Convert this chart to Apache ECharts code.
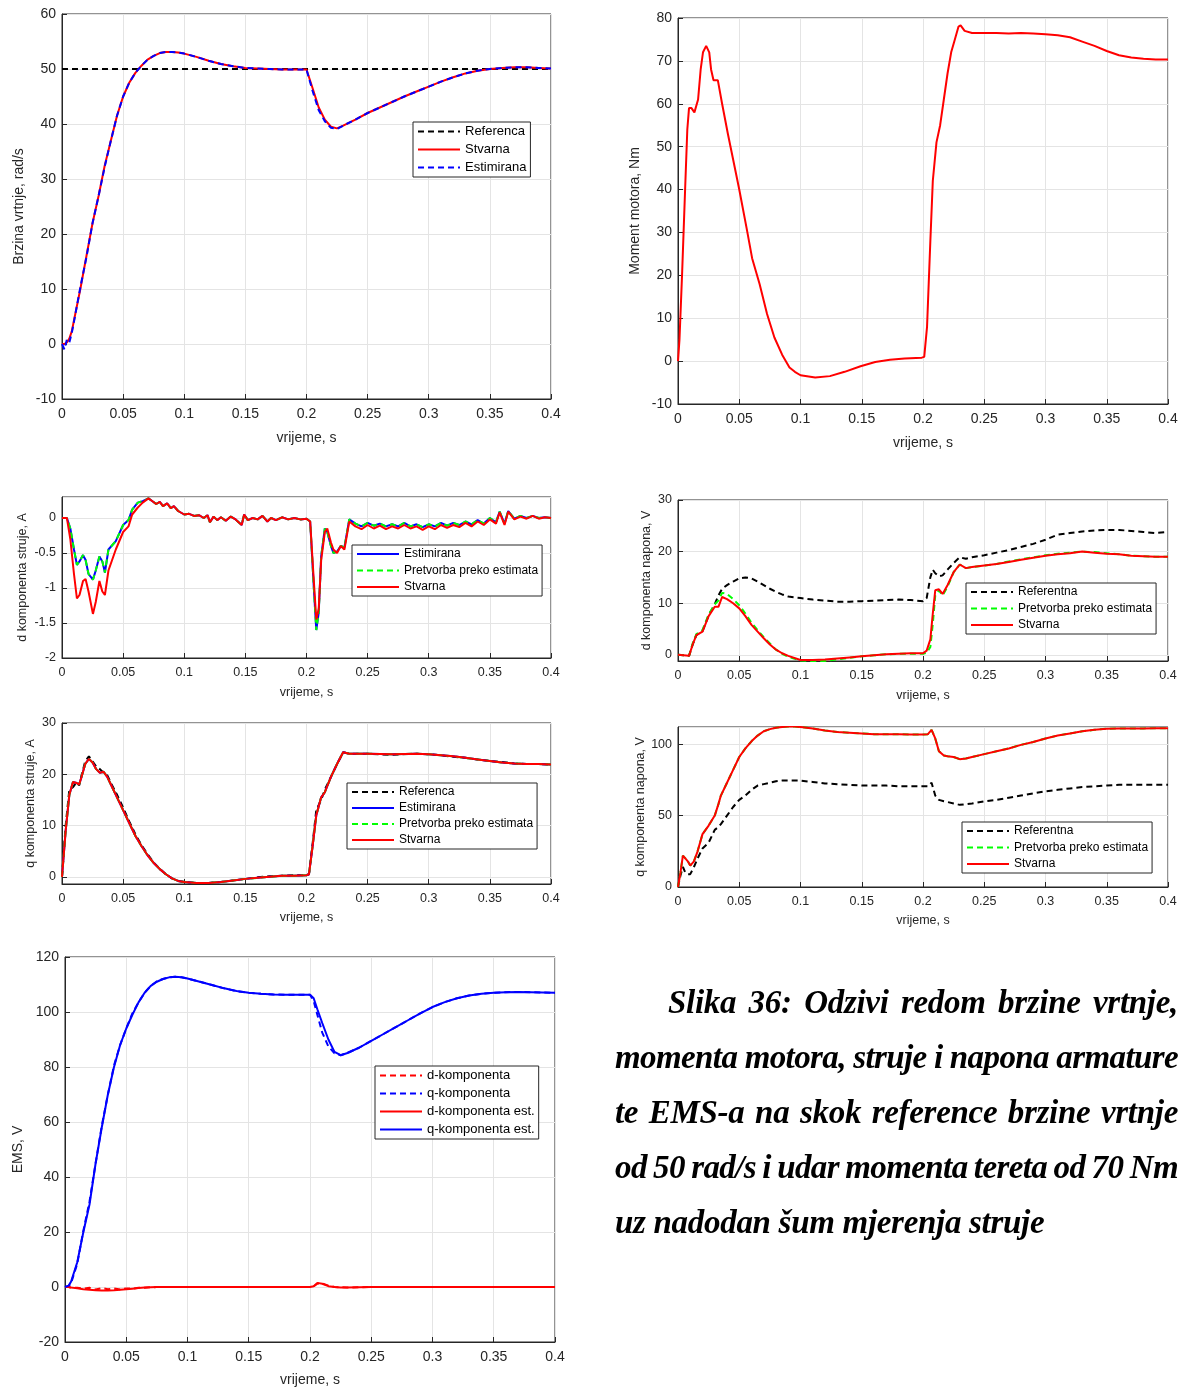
<!DOCTYPE html>
<html>
<head>
<meta charset="utf-8">
<title>Slika 36</title>
<script src="https://cdn.jsdelivr.net/npm/echarts@6/dist/echarts.min.js"></script>
<style>
	body { margin: 0; background: #fff; }
	#main { position: absolute; left: 0; top: 0; width: 1183px; height: 1388px; }
	#caption { position: absolute; left: 615px; top: 975px; width: 563px; font-family: "Liberation Serif", serif;
		font-weight: bold; font-style: italic; font-size: 33px; line-height: 55px; color: #000; letter-spacing: -0.3px; }
	#caption div { white-space: nowrap; text-align: justify; text-align-last: justify; }
	#caption div.first { padding-left: 53px; }
	#caption div.tight { letter-spacing: -0.6px; word-spacing: -5px; }
	#caption div.last { text-align-last: left; }
</style>
</head>
<body>
<div id="main"></div>
<div id="caption">
	<div class="first">Slika 36: Odzivi redom brzine vrtnje,</div>
	<div class="tight">momenta motora, struje i napona armature</div>
	<div>te EMS-a na skok reference brzine vrtnje</div>
	<div class="tight">od 50 rad/s i udar momenta tereta od 70 Nm</div>
	<div class="last">uz nadodan šum mjerenja struje</div>
</div>
<script>
// brzina vrtnje
var refT = [0, 0.4];
var speedRef = [50, 50];
var t1 = [0, 0.002, 0.004, 0.006, 0.008, 0.01, 0.015, 0.02, 0.025, 0.03, 0.035, 0.04, 0.045, 0.05, 0.055, 0.06, 0.065, 0.07, 0.075, 0.08, 0.085, 0.09, 0.095, 0.1,
	0.11, 0.12, 0.13, 0.14, 0.15, 0.16, 0.17, 0.18, 0.19, 0.2, 0.205, 0.21, 0.215, 0.22, 0.225, 0.23,
	0.24, 0.25, 0.26, 0.27, 0.28, 0.29, 0.3, 0.31, 0.32, 0.33, 0.34, 0.35, 0.36, 0.37, 0.38, 0.39, 0.4];
var speedReal = [0, 0, 0.3, 1, 2.3, 4.5, 10, 16, 22, 27, 32.5, 37, 41.5, 45, 47.5, 49.3, 50.6, 51.7, 52.4, 52.9, 53.1, 53.1, 53, 52.8,
	52.2, 51.5, 50.9, 50.5, 50.2, 50.1, 50, 49.9, 49.9, 49.9, 46.5, 43, 40.8, 39.5, 39.2, 39.7,
	40.8, 42, 43, 44, 45, 45.9, 46.8, 47.7, 48.5, 49.2, 49.7, 50, 50.2, 50.3, 50.3, 50.2, 50.1];
var speedEst = [0, -1, 0.8, 0.3, 2, 4.3, 10.3, 15.8, 22, 27, 32.3, 37, 41.5, 45, 47.5, 49.3, 50.6, 51.7, 52.4, 52.9, 53.1, 53.1, 53, 52.8,
	52.2, 51.5, 50.9, 50.5, 50.2, 50.1, 50, 49.9, 49.9, 49.9, 46, 42.5, 40.5, 39.3, 39.1, 39.7,
	40.8, 42, 43, 44, 45, 45.9, 46.8, 47.7, 48.5, 49.2, 49.7, 50, 50.2, 50.3, 50.3, 50.2, 50.1];

// moment motora
var t2 = [0, 0.0012, 0.0033, 0.0058, 0.0076, 0.009, 0.011, 0.0134, 0.015, 0.0164, 0.0185, 0.0204, 0.023, 0.0255, 0.027, 0.029, 0.0325, 0.036, 0.0407, 0.045,
	0.05, 0.056, 0.0605, 0.0666, 0.0727, 0.0787, 0.085, 0.091, 0.0954, 0.1, 0.112, 0.124, 0.136, 0.149, 0.161, 0.173, 0.185, 0.199, 0.201, 0.2033,
	0.206, 0.208, 0.211, 0.214, 0.217, 0.22, 0.223, 0.226, 0.229, 0.2307, 0.234, 0.24, 0.25, 0.26, 0.27, 0.28, 0.29, 0.3, 0.31, 0.32,
	0.33, 0.34, 0.35, 0.36, 0.37, 0.38, 0.39, 0.4];
var torque = [0, 5, 20, 40, 54, 59, 59, 58, 58, 61, 68, 72, 73.5, 72, 68, 65.5, 65.5, 60, 53, 47,
	40, 31, 24, 18, 11, 5.5, 1.5, -1.5, -2.5, -3.3, -3.8, -3.5, -2.5, -1.2, -0.2, 0.3, 0.6, 0.8, 1.0, 8,
	28, 42, 51, 55, 61, 67, 72, 75, 78, 78.3, 77, 76.5, 76.5, 76.5, 76.4, 76.5, 76.4, 76.2, 76, 75.5,
	74.5, 73.5, 72.3, 71.3, 70.8, 70.5, 70.3, 70.3];

// d komponenta struje
var t3 = [0, 0.004, 0.0068, 0.0098, 0.0122, 0.0143, 0.0172, 0.0193, 0.0217, 0.0253, 0.0276, 0.0306, 0.033, 0.0351, 0.038, 0.044, 0.05, 0.0544, 0.0574, 0.062, 0.066, 0.0707,
	0.074, 0.077, 0.08, 0.0826, 0.086, 0.089, 0.0915, 0.095, 0.1, 0.104, 0.108, 0.112, 0.116, 0.119, 0.121, 0.124, 0.127, 0.13, 0.134, 0.138,
	0.142, 0.147, 0.149, 0.152, 0.156, 0.16, 0.164, 0.168, 0.171, 0.175, 0.18, 0.185, 0.19, 0.195, 0.2,
	0.203, 0.206, 0.208, 0.21, 0.212, 0.215, 0.217, 0.22, 0.222, 0.225, 0.228, 0.231, 0.235,
	0.24, 0.245, 0.25, 0.255, 0.26, 0.265, 0.27, 0.275, 0.28, 0.285, 0.29, 0.295, 0.3, 0.305, 0.31, 0.315, 0.32, 0.325, 0.33, 0.335,
	0.34, 0.345, 0.35, 0.355, 0.358, 0.362, 0.365, 0.37, 0.375, 0.38, 0.385, 0.39, 0.395, 0.4];
var idReal = [0, 0, -0.3, -0.8, -1.15, -1.1, -0.9, -0.87, -1.05, -1.37, -1.2, -0.9, -1.05, -1.1, -0.75, -0.45, -0.2, -0.12, 0.05, 0.15, 0.22, 0.28,
	0.24, 0.2, 0.23, 0.17, 0.21, 0.14, 0.17, 0.1, 0.05, 0.06, 0.03, 0.04, 0, 0.04, -0.06, 0.02, -0.03, 0.01, -0.04, 0.02,
	-0.02, -0.1, 0.05, -0.03, 0, -0.02, 0.03, -0.05, 0, -0.03, 0.01, -0.02, 0, -0.02, -0.01,
	-0.05, -0.9, -1.45, -1.3, -0.6, -0.2, -0.15, -0.35, -0.45, -0.5, -0.4, -0.45, -0.05,
	-0.12, -0.16, -0.1, -0.15, -0.11, -0.16, -0.12, -0.15, -0.1, -0.15, -0.12, -0.17, -0.12, -0.16, -0.1, -0.14, -0.1, -0.13, -0.07, -0.12,
	-0.05, -0.1, -0.02, -0.08, 0.08, -0.1, 0.09, -0.02, 0.02, -0.01, 0.03, -0.01, 0.01, 0];
var idEst = [0, 0, -0.15, -0.45, -0.67, -0.62, -0.53, -0.6, -0.8, -0.88, -0.75, -0.55, -0.62, -0.78, -0.45, -0.33, -0.1, -0.03, 0.12, 0.22, 0.24, 0.28,
	0.24, 0.2, 0.23, 0.17, 0.21, 0.14, 0.17, 0.1, 0.05, 0.06, 0.03, 0.04, 0, 0.04, -0.06, 0.02, -0.03, 0.01, -0.04, 0.02,
	-0.02, -0.1, 0.05, -0.03, 0, -0.02, 0.03, -0.05, 0, -0.03, 0.01, -0.02, 0, -0.02, -0.01,
	-0.05, -1.0, -1.6, -1.35, -0.55, -0.15, -0.2, -0.4, -0.5, -0.48, -0.4, -0.42, -0.02,
	-0.08, -0.12, -0.07, -0.11, -0.08, -0.12, -0.09, -0.12, -0.07, -0.12, -0.09, -0.13, -0.09, -0.12, -0.07, -0.11, -0.07, -0.1, -0.05, -0.09,
	-0.03, -0.08, 0, -0.06, 0.09, -0.08, 0.1, -0.01, 0.03, 0, 0.03, 0, 0.01, 0];

// d komponenta napona
var t4 = [0, 0.009, 0.012, 0.015, 0.02, 0.025, 0.03, 0.033, 0.036, 0.04, 0.045, 0.05, 0.055, 0.06, 0.065, 0.07, 0.075, 0.08, 0.085, 0.09,
	0.1, 0.11, 0.12, 0.13, 0.14, 0.15, 0.16, 0.17, 0.18, 0.19, 0.2, 0.203, 0.206, 0.208, 0.21, 0.213, 0.216, 0.22, 0.225, 0.23, 0.235,
	0.24, 0.25, 0.26, 0.27, 0.28, 0.29, 0.3, 0.31, 0.32, 0.33, 0.34, 0.35, 0.36, 0.37, 0.38, 0.39, 0.4];
var udReal = [0, -0.2, 2, 3.8, 4.5, 7.5, 9.3, 9.3, 11.2, 10.8, 10, 9, 7.5, 5.8, 4.5, 3.2, 2, 1, 0.3, -0.2,
	-1, -1, -0.9, -0.7, -0.5, -0.3, -0.1, 0.1, 0.2, 0.3, 0.3, 0.8, 3, 8, 12.5, 12.7, 11.8, 13.5, 16, 17.5, 16.8,
	17, 17.3, 17.6, 18, 18.4, 18.8, 19.2, 19.5, 19.7, 20, 19.8, 19.6, 19.5, 19.2, 19.1, 19, 19];
var udConv = [0, -0.2, 2.2, 4, 4.8, 7.8, 9.8, 10.5, 12, 11.8, 10.8, 9.6, 8, 6.2, 4.8, 3.4, 2.2, 1, 0.2, -0.4,
	-1.1, -1.2, -1.2, -0.9, -0.6, -0.3, -0.1, 0.1, 0.2, 0.2, 0.2, 0.4, 1.5, 6, 11.5, 12.5, 11.5, 13.2, 16, 17.5, 16.8,
	17, 17.3, 17.6, 18.1, 18.5, 18.9, 19.3, 19.6, 19.8, 20, 19.9, 19.7, 19.5, 19.2, 19.1, 19, 19];
var udRef = [0, -0.2, 2, 3.8, 4.6, 7.6, 9.8, 11.5, 12.8, 13.5, 14.2, 14.8, 15, 14.8, 14.2, 13.5, 12.8, 12.2, 11.7, 11.3,
	11, 10.7, 10.5, 10.3, 10.3, 10.4, 10.5, 10.6, 10.7, 10.6, 10.4, 11, 15, 16.5, 15.8, 15.2, 15.4, 16.5, 17.8, 18.9, 18.6,
	18.9, 19.3, 19.8, 20.3, 20.9, 21.5, 22.3, 23.3, 23.6, 23.9, 24.1, 24.2, 24.2, 24, 23.8, 23.6, 23.8];

// q komponenta struje
var t5 = [0, 0.003, 0.006, 0.009, 0.012, 0.014, 0.016, 0.019, 0.022, 0.025, 0.028, 0.031, 0.034, 0.037, 0.04, 0.045, 0.05, 0.055, 0.06, 0.065,
	0.07, 0.075, 0.08, 0.085, 0.09, 0.095, 0.1, 0.11, 0.12, 0.13, 0.14, 0.15, 0.16, 0.17, 0.18, 0.19, 0.2, 0.202, 0.205, 0.208,
	0.212, 0.215, 0.22, 0.225, 0.23, 0.235, 0.25, 0.27, 0.29, 0.3, 0.31, 0.32, 0.33, 0.34, 0.35, 0.36, 0.37, 0.38, 0.39, 0.4];
var iqReal = [0, 9, 16, 18.5, 18.3, 18, 19.5, 22, 23, 22.3, 21, 20.3, 20.5, 19.5, 18, 15.5, 13, 10.5, 8, 6,
	4.2, 2.7, 1.5, 0.5, -0.3, -0.8, -1, -1.2, -1.2, -1, -0.7, -0.4, -0.2, 0, 0.2, 0.2, 0.3, 0.5, 6, 12,
	15.5, 16.5, 19.5, 22, 24.3, 24, 24, 23.9, 24, 23.9, 23.7, 23.5, 23.2, 22.9, 22.6, 22.3, 22.1, 22, 22, 21.9];
var iqRef = [0, 10, 17, 17.5, 18.5, 17.8, 19.8, 22.5, 23.5, 22.5, 21.5, 21, 20.3, 19.8, 18.3, 16, 13.5, 10.8, 8.3, 6.2,
	4.4, 2.8, 1.6, 0.5, -0.3, -0.8, -1, -1.2, -1.2, -1, -0.7, -0.4, -0.1, 0.1, 0.2, 0.3, 0.3, 0.5, 6.5, 13,
	15, 17, 19.5, 22, 24.3, 24, 24, 23.8, 24, 23.9, 23.7, 23.4, 23.2, 22.9, 22.6, 22.4, 22.1, 22, 22, 21.9];

// q komponenta napona
var t6 = [0, 0.002, 0.004, 0.006, 0.008, 0.01, 0.013, 0.016, 0.02, 0.025, 0.03, 0.033, 0.035, 0.04, 0.045, 0.05, 0.055, 0.06, 0.065, 0.07,
	0.075, 0.08, 0.085, 0.09, 0.095, 0.1, 0.11, 0.12, 0.13, 0.14, 0.15, 0.16, 0.17, 0.18, 0.19, 0.2, 0.204, 0.207, 0.21, 0.213,
	0.217, 0.22, 0.225, 0.23, 0.235, 0.24, 0.25, 0.26, 0.27, 0.28, 0.29, 0.3, 0.31, 0.32, 0.33, 0.34, 0.35, 0.36, 0.37, 0.38, 0.39, 0.4];
var uqReal = [0, 10, 22, 20, 18, 15, 18, 25, 37, 43, 50, 58, 64, 73, 82, 91, 97, 102, 106, 109,
	110.5, 111.5, 112, 112.3, 112.3, 112, 111, 109.5, 108.5, 108, 107.5, 107, 107, 107, 106.8, 106.8, 107, 110, 104, 95,
	92, 91.5, 91, 89.5, 90, 91, 93, 95, 97, 99.5, 101.5, 104, 106, 107.5, 109, 110, 110.8, 111, 111, 111, 111.2, 111.2];
var uqRef = [0, 8, 14, 10, 9, 9, 14, 20, 27, 31, 40, 42, 44, 50, 56, 61, 64, 68, 71, 72,
	73, 74, 74.5, 74.5, 74.5, 74.5, 73.5, 72.5, 72, 71.5, 71, 71, 71, 70.5, 70.5, 70.5, 70.5, 73, 64, 61,
	60, 59.5, 58.5, 57.5, 58, 58.5, 60, 61, 62.5, 64, 65.5, 67, 68, 69, 70, 70.5, 71, 71.5, 71.5, 71.5, 71.5, 71.5];

// EMS
var t7 = [0, 0.003, 0.005, 0.01, 0.015, 0.02, 0.025, 0.03, 0.035, 0.04, 0.045, 0.05, 0.055, 0.06, 0.065, 0.07, 0.075, 0.08, 0.085, 0.09, 0.095, 0.1,
	0.11, 0.12, 0.13, 0.14, 0.15, 0.16, 0.17, 0.18, 0.19, 0.2, 0.203, 0.206, 0.21, 0.215, 0.22, 0.225, 0.23,
	0.24, 0.25, 0.26, 0.27, 0.28, 0.29, 0.3, 0.31, 0.32, 0.33, 0.34, 0.35, 0.36, 0.37, 0.38, 0.39, 0.4];
var emfQest = [0, 0.5, 2, 9, 20, 30, 45, 58, 70, 80, 88, 94, 99, 103.5, 107, 109.5, 111, 112, 112.6, 112.8, 112.6, 112.2,
	111, 109.8, 108.6, 107.6, 107, 106.6, 106.4, 106.3, 106.3, 106.3, 105, 101, 96, 90, 85.5, 84.3, 85,
	87, 89.5, 92, 94.5, 97, 99.5, 101.8, 103.6, 105, 106, 106.6, 107, 107.2, 107.3, 107.2, 107.1, 107];
var emfQ = [0, 0.3, 1.5, 8.5, 20.5, 31, 45, 58.5, 70, 80.5, 88, 94, 99.5, 103.5, 107, 109.5, 111.2, 112, 112.6, 112.8, 112.6, 112.2,
	111, 109.8, 108.6, 107.6, 107, 106.6, 106.4, 106.3, 106.3, 106.3, 104, 99, 92.5, 87.5, 85, 84.3, 85,
	87, 89.5, 92, 94.5, 97, 99.5, 101.8, 103.6, 105, 106, 106.6, 107, 107.2, 107.3, 107.2, 107.1, 107];
var emfDest = [0, 0, -0.2, -0.5, -0.8, -1, -1.2, -1.3, -1.3, -1.2, -1, -0.8, -0.6, -0.4, -0.2, -0.1, 0, 0, 0, 0, 0, 0,
	0, 0, 0, 0, 0, 0, 0, 0, 0, 0, 0.3, 1.5, 1.2, 0.3, 0, -0.2, -0.2,
	-0.1, 0, 0, 0, 0, 0, 0, 0, 0, 0, 0, 0, 0, 0, 0, 0, 0];
var emfD = [0, 0, -0.3, -0.3, -0.6, -0.3, -0.9, -0.4, -0.8, -0.5, -0.9, -0.5, -0.6, -0.3, -0.3, -0.1, 0, 0, 0, 0, 0, 0,
	0, 0, 0, 0, 0, 0, 0, 0, 0, 0, 0.2, 1.2, 1.3, 0.5, 0, -0.1, -0.2,
	-0.1, 0, 0, 0, 0, 0, 0, 0, 0, 0, 0, 0, 0, 0, 0, 0, 0];

var FONT = '"Liberation Sans", Arial, sans-serif';
var AXIS = '#262626';
var RED = '#ff0000', BLUE = '#0000ff', GREEN = '#00ff00', BLACK = '#000000';
var DASH = [6, 4];

function pairs(t, v) {
	return t.map(function (x, i) { return [x, v[i]]; });
}

function grid(left, top, width, height) {
	return { left: left, top: top, width: width, height: height, show: true, borderColor: AXIS, borderWidth: 1, backgroundColor: '#fff' };
}

function xAxis(g, gap, fs) {
	return {
		type: 'value', gridIndex: g, min: 0, max: 0.4, interval: 0.05,
		name: 'vrijeme, s', nameLocation: 'middle', nameGap: gap,
		nameTextStyle: { fontSize: fs, color: AXIS, fontFamily: FONT },
		axisLine: { show: true, onZero: false, lineStyle: { color: AXIS } },
		axisTick: { show: true, inside: true, length: 5, lineStyle: { color: AXIS } },
		axisLabel: { fontSize: fs, color: AXIS, fontFamily: FONT, margin: 8 },
		splitLine: { show: true, lineStyle: { color: '#e4e4e4' } }
	};
}

function yAxis(g, min, max, interval, name, gap, fs, hideMax) {
	var ax = {
		type: 'value', gridIndex: g, min: min, max: max,
		name: name, nameLocation: 'middle', nameGap: gap,
		nameTextStyle: { fontSize: fs, color: AXIS, fontFamily: FONT },
		axisLine: { show: true, onZero: false, lineStyle: { color: AXIS } },
		axisTick: { show: true, inside: true, length: 5, lineStyle: { color: AXIS } },
		axisLabel: { fontSize: fs, color: AXIS, fontFamily: FONT, margin: 6 },
		splitLine: { show: true, lineStyle: { color: '#e4e4e4' } }
	};
	if (interval) {
		ax.interval = interval;
	} else {
		ax.splitNumber = 3;
		ax.axisLabel.showMinLabel = false;
	}
	if (hideMax) ax.axisLabel.showMaxLabel = false;
	return ax;
}

function line(name, g, t, v, color, width, dashed, z) {
	return {
		type: 'line', name: name, xAxisIndex: g, yAxisIndex: g, data: pairs(t, v),
		symbol: 'none', showSymbol: false, z: z || 2,
		lineStyle: { color: color, width: width, type: dashed ? DASH : 'solid' },
		itemStyle: { color: color }
	};
}

function legend(left, top, items, fs, gap) {
	return {
		left: left, top: top, orient: 'vertical', data: items,
		backgroundColor: '#fff', borderColor: AXIS, borderWidth: 1, borderRadius: 0,
		padding: [3, 4, 3, 4], itemGap: gap, itemWidth: 42, itemHeight: 12, itemTextGap: 4,
		itemStyle: { opacity: 0 },
		textStyle: { fontSize: fs, color: '#000', fontFamily: FONT },
		selectedMode: false
	};
}

var chart = echarts.init(document.getElementById('main'));

var option = {
	animation: false,
	backgroundColor: '#fff',
	grid: [
		grid(62, 14, 489, 385),
		grid(678, 18, 490, 386),
		grid(62, 497, 489, 161),
		grid(678, 500, 490, 161),
		grid(62, 723, 489, 161),
		grid(678, 727, 490, 160),
		grid(65, 957, 490, 386)
	],
	xAxis: [
		xAxis(0, 32, 14), xAxis(1, 32, 14), xAxis(2, 28, 12.5), xAxis(3, 28, 12.5),
		xAxis(4, 27, 12.5), xAxis(5, 27, 12.5), xAxis(6, 31, 14)
	],
	yAxis: [
		yAxis(0, -10, 60, 10, 'Brzina vrtnje, rad/s', 36, 14),
		yAxis(1, -10, 80, 10, 'Moment motora, Nm', 36, 14),
		yAxis(2, -2, 0.3, 0.5, 'd komponenta struje, A', 33, 12.5, true),
		yAxis(3, -1.2, 30, null, 'd komponenta napona, V', 25, 12.5),
		yAxis(4, -1.4, 30, null, 'q komponenta struje, A', 25, 12.5),
		yAxis(5, 0, 112, 50, 'q komponenta napona, V', 31, 12.5, true),
		yAxis(6, -20, 120, 20, 'EMS, V', 40, 14)
	],
	legend: [
		legend(413, 122, ['Referenca', 'Stvarna', 'Estimirana'], 13, 5),
		legend(352, 545, [{ name: 'Estimirana', lineStyle: { type: 'solid' } }, 'Pretvorba preko estimata', 'Stvarna'], 12, 4.5),
		legend(966, 583, ['Referentna', 'Pretvorba preko estimata', 'Stvarna'], 12, 4.5),
		legend(347, 783, ['Referenca', { name: 'Estimirana', lineStyle: { type: 'solid' } }, 'Pretvorba preko estimata', 'Stvarna'], 12, 4),
		legend(962, 822, ['Referentna', 'Pretvorba preko estimata', 'Stvarna'], 12, 4.5),
		legend(375, 1066, ['d-komponenta', 'q-komponenta', 'd-komponenta est.', 'q-komponenta est.'], 13, 5)
	],
	series: [
		// brzina
		line('Referenca', 0, refT, speedRef, BLACK, 2, true, 2),
		line('Stvarna', 0, t1, speedReal, RED, 2, false, 3),
		line('Estimirana', 0, t1, speedEst, BLUE, 2, true, 4),
		// moment
		line('Moment', 1, t2, torque, RED, 2, false, 3),
		// id
		line('Estimirana', 2, t3, idEst, BLUE, 2, false, 2),
		line('Pretvorba preko estimata', 2, t3, idEst, GREEN, 2, true, 3),
		line('Stvarna', 2, t3, idReal, RED, 2, false, 4),
		// ud
		line('Referentna', 3, t4, udRef, BLACK, 2, true, 2),
		line('Pretvorba preko estimata', 3, t4, udConv, GREEN, 2, true, 3),
		line('Stvarna', 3, t4, udReal, RED, 2, false, 4),
		// iq
		line('Referenca', 4, t5, iqRef, BLACK, 2, true, 2),
		line('Estimirana', 4, t5, iqReal, BLUE, 2, false, 3),
		line('Pretvorba preko estimata', 4, t5, iqReal, GREEN, 2, true, 4),
		line('Stvarna', 4, t5, iqReal, RED, 2, false, 5),
		// uq
		line('Referentna', 5, t6, uqRef, BLACK, 2, true, 2),
		line('Pretvorba preko estimata', 5, t6, uqReal, GREEN, 2, true, 3),
		line('Stvarna', 5, t6, uqReal, RED, 2, false, 4),
		// EMS
		line('d-komponenta', 6, t7, emfD, RED, 2, true, 2),
		line('q-komponenta', 6, t7, emfQ, BLUE, 2, true, 3),
		line('d-komponenta est.', 6, t7, emfDest, RED, 2, false, 4),
		line('q-komponenta est.', 6, t7, emfQest, BLUE, 2, false, 5)
	]
};

chart.setOption(option);
</script>
</body>
</html>
